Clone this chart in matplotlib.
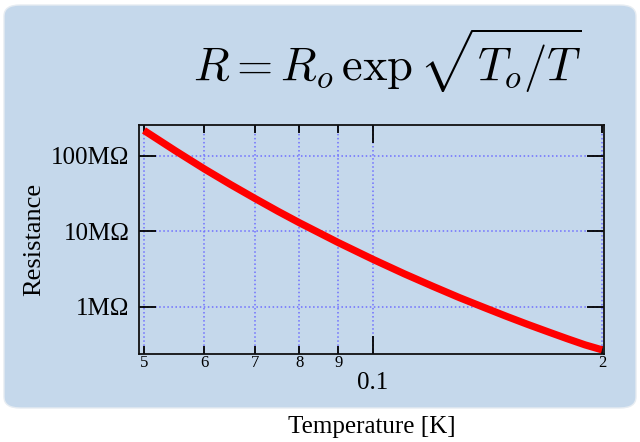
import matplotlib
matplotlib.use("Agg")
import matplotlib.pyplot as plt
import matplotlib.ticker as mticker
from matplotlib.patches import FancyBboxPatch

plt.rcParams['font.family'] = ['Liberation Serif', 'DejaVu Serif']
plt.rcParams['mathtext.fontset'] = 'cm'

# temperature [K] and resistance [Ohm] along the curve
temperature = [0.05, 0.055, 0.06, 0.065, 0.07, 0.075, 0.08, 0.09, 0.1,
               0.11, 0.12, 0.13, 0.14, 0.15, 0.16, 0.17, 0.18, 0.19, 0.2]
resistance = [2.16e8, 1.16e8, 6.7e7, 4.15e7, 2.71e7, 1.84e7, 1.30e7, 7.1e6, 4.25e6,
              2.73e6, 1.86e6, 1.32e6, 9.8e5, 7.45e5, 5.82e5, 4.66e5, 3.79e5, 3.14e5, 2.7e5]

x_minor = [0.05, 0.06, 0.07, 0.08, 0.09, 0.2]
x_minor_labels = ['5', '6', '7', '8', '9', '2']
y_ticks = [1e6, 1e7, 1e8]
y_labels = ['1MΩ', '10MΩ', '100MΩ']

fig = plt.figure(figsize=(6.4, 4.42), dpi=100)
fig.patch.set_facecolor('white')

# rounded panel behind the plot
box = FancyBboxPatch((4 / 640, 1 - 408 / 442), 632 / 640, 403 / 442,
                     boxstyle="round,pad=0,rounding_size=0.025",
                     transform=fig.transFigure, facecolor='#c5d8eb',
                     edgecolor='#e6ecf2', linewidth=1, zorder=-10)
fig.patches.append(box)

ax = fig.add_axes([0.2177, 0.1998, 0.7265, 0.5174])
ax.set_facecolor('none')
ax.plot(temperature, resistance, color='red', linewidth=5.2, solid_capstyle='butt', zorder=3)

ax.set_xscale('log')
ax.set_yscale('log')
ax.set_xlim(0.0493, 0.2014)
ax.set_ylim(2.4e5, 2.55e8)

ax.xaxis.set_major_locator(mticker.FixedLocator([0.1]))
ax.xaxis.set_major_formatter(mticker.FixedFormatter(['0.1']))
ax.xaxis.set_minor_locator(mticker.FixedLocator(x_minor))
ax.xaxis.set_minor_formatter(mticker.FixedFormatter(x_minor_labels))
ax.yaxis.set_major_locator(mticker.FixedLocator(y_ticks))
ax.yaxis.set_major_formatter(mticker.FixedFormatter(y_labels))
ax.yaxis.set_minor_locator(mticker.NullLocator())

ax.tick_params(axis='x', which='major', direction='in', length=13, width=1.3,
               top=True, labelsize=18, pad=13)
ax.tick_params(axis='x', which='minor', direction='in', length=6, width=1.3,
               top=True, labelsize=12, pad=1)
ax.tick_params(axis='y', which='major', direction='in', length=12, width=1.3,
               right=True, labelsize=18, pad=7)

ax.grid(True, which='both', axis='x', color='#6f6fff', linestyle=':', linewidth=1.1)
ax.grid(True, which='major', axis='y', color='#6f6fff', linestyle=':', linewidth=1.1)

for s in ax.spines.values():
    s.set_linewidth(1.3)
    s.set_color('#111111')

ax.set_ylabel('Resistance', fontsize=19, labelpad=4)
ax.set_xlabel('Temperature [K]', fontsize=18, labelpad=16)

fig.text(0.605, 0.862, r'$R = R_o\,\exp\sqrt{T_o/T}$', fontsize=33.5,
         ha='center', va='center')

fig.savefig('out.png', dpi=100, facecolor='white')
